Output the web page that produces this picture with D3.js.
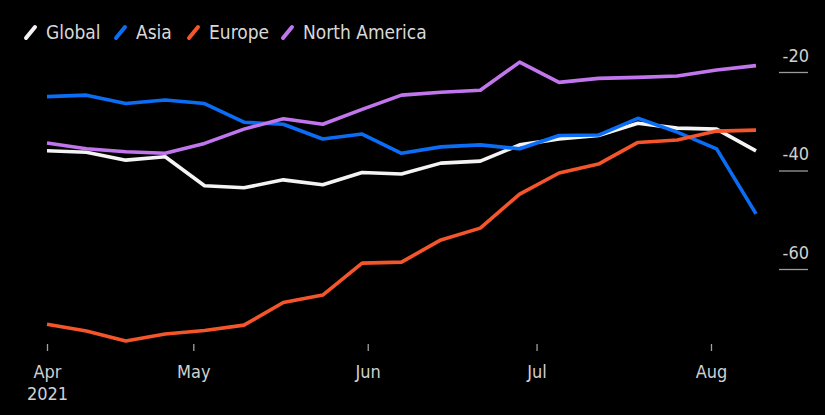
<!DOCTYPE html>
<html>
<head>
<meta charset="utf-8">
<script src="https://cdn.jsdelivr.net/npm/d3@7"></script>
<style>
  html, body { margin: 0; padding: 0; background: #000; }
  svg { display: block; }
  text { font-family: "DejaVu Sans Condensed", "Liberation Sans Narrow", "DejaVu Sans", sans-serif; font-stretch: condensed; }
</style>
</head>
<body>
<svg id="chart" width="825" height="415"></svg>
<script>
// Weekly observations
const dates = [
  "2021-04-05", "2021-04-12", "2021-04-19", "2021-04-26", "2021-05-03",
  "2021-05-10", "2021-05-17", "2021-05-24", "2021-05-31", "2021-06-07",
  "2021-06-14", "2021-06-21", "2021-06-28", "2021-07-05", "2021-07-12",
  "2021-07-19", "2021-07-26", "2021-08-02", "2021-08-09"
];

const globalVals = [-36.0, -36.3, -37.9, -37.2, -43.1, -43.5, -41.9, -42.9, -40.4, -40.7,
                    -38.5, -38.1, -34.8, -33.6, -32.9, -30.4, -31.4, -31.6, -36.0];
const asiaVals   = [-25.0, -24.7, -26.4, -25.7, -26.4, -30.2, -30.6, -33.6, -32.6, -36.5,
                    -35.2, -34.8, -35.6, -32.9, -32.8, -29.4, -32.2, -35.6, -48.8];
const europeVals = [-71.2, -72.6, -74.6, -73.2, -72.5, -71.4, -66.8, -65.3, -58.8, -58.6,
                    -54.1, -51.7, -44.8, -40.5, -38.7, -34.3, -33.8, -32.0, -31.8];
const naVals     = [-34.4, -35.6, -36.2, -36.5, -34.5, -31.6, -29.5, -30.6, -27.6, -24.7,
                    -24.1, -23.7, -18.0, -22.1, -21.3, -21.1, -20.8, -19.6, -18.7];

const seriesNames  = ["Global", "Asia", "Europe", "North America"];
const seriesColors = ["#f4f4f4", "#0b6df5", "#f4552a", "#c276ee"];

const yTicks = [-20, -40, -60];
const xTickDates  = ["2021-04-05", "2021-05-01", "2021-06-01", "2021-07-01", "2021-08-01"];
const xTickLabels = ["Apr", "May", "Jun", "Jul", "Aug"];
const yearLabel = "2021";

const parse = d3.utcParse("%Y-%m-%d");
const seriesValues = [globalVals, asiaVals, europeVals, naVals];
const series = seriesNames.map((name, i) => ({
  name,
  color: seriesColors[i],
  points: dates.map((d, j) => ({ date: parse(d), value: seriesValues[i][j] }))
}));

const svg = d3.select("#chart");

const x = d3.scaleUtc()
  .domain([parse(dates[0]), parse(dates[dates.length - 1])])
  .range([47, 756]);

const y = d3.scaleLinear()
  .domain([-20, -60])
  .range([72, 269]);

// Right-hand value axis: short stubs with the label sitting above each
const yAxis = svg.append("g").attr("transform", "translate(808,0)")
  .call(d3.axisLeft(y).tickValues(yTicks).tickSize(29).tickFormat(""));
yAxis.select(".domain").remove();
yAxis.selectAll(".tick line").attr("stroke", "#9a9a9a").attr("stroke-width", 1.3);
yAxis.selectAll(".tick").append("text")
  .attr("x", 1)
  .attr("y", -11)
  .attr("text-anchor", "end")
  .attr("fill", "#d0d0d0")
  .attr("font-size", 18)
  .text(d => String(d));

// Time axis
const xAxis = svg.append("g").attr("transform", "translate(0,344)")
  .call(d3.axisBottom(x)
    .tickValues(xTickDates.map(parse))
    .tickSize(7)
    .tickPadding(14)
    .tickFormat((d, i) => xTickLabels[i]));
xAxis.select(".domain").remove();
xAxis.selectAll(".tick line").attr("stroke", "#a0a0a0").attr("stroke-width", 1.3);
xAxis.selectAll(".tick text")
  .attr("fill", "#d0d0d0")
  .attr("font-size", 18)
  .attr("font-family", null);
xAxis.select(".tick text")
  .append("tspan")
  .attr("x", 0)
  .attr("dy", "1.25em")
  .text(yearLabel);

// Lines
const line = d3.line()
  .x(d => x(d.date))
  .y(d => y(d.value));

svg.append("g").selectAll("path")
  .data(series)
  .join("path")
  .attr("fill", "none")
  .attr("stroke", d => d.color)
  .attr("stroke-width", 3.6)
  .attr("stroke-linejoin", "round")
  .attr("d", d => line(d.points));

// Legend
const legendX = [25, 115, 188, 282];
const legend = svg.append("g").selectAll("g")
  .data(series)
  .join("g")
  .attr("transform", (d, i) => `translate(${legendX[i]},0)`);
legend.append("line")
  .attr("x1", 1).attr("y1", 38)
  .attr("x2", 10).attr("y2", 27)
  .attr("stroke", d => d.color)
  .attr("stroke-width", 4)
  .attr("stroke-linecap", "round");
legend.append("text")
  .attr("x", 21)
  .attr("y", 39)
  .attr("fill", "#d8d8d8")
  .attr("font-size", 19)
  .text(d => d.name);
</script>
</body>
</html>
